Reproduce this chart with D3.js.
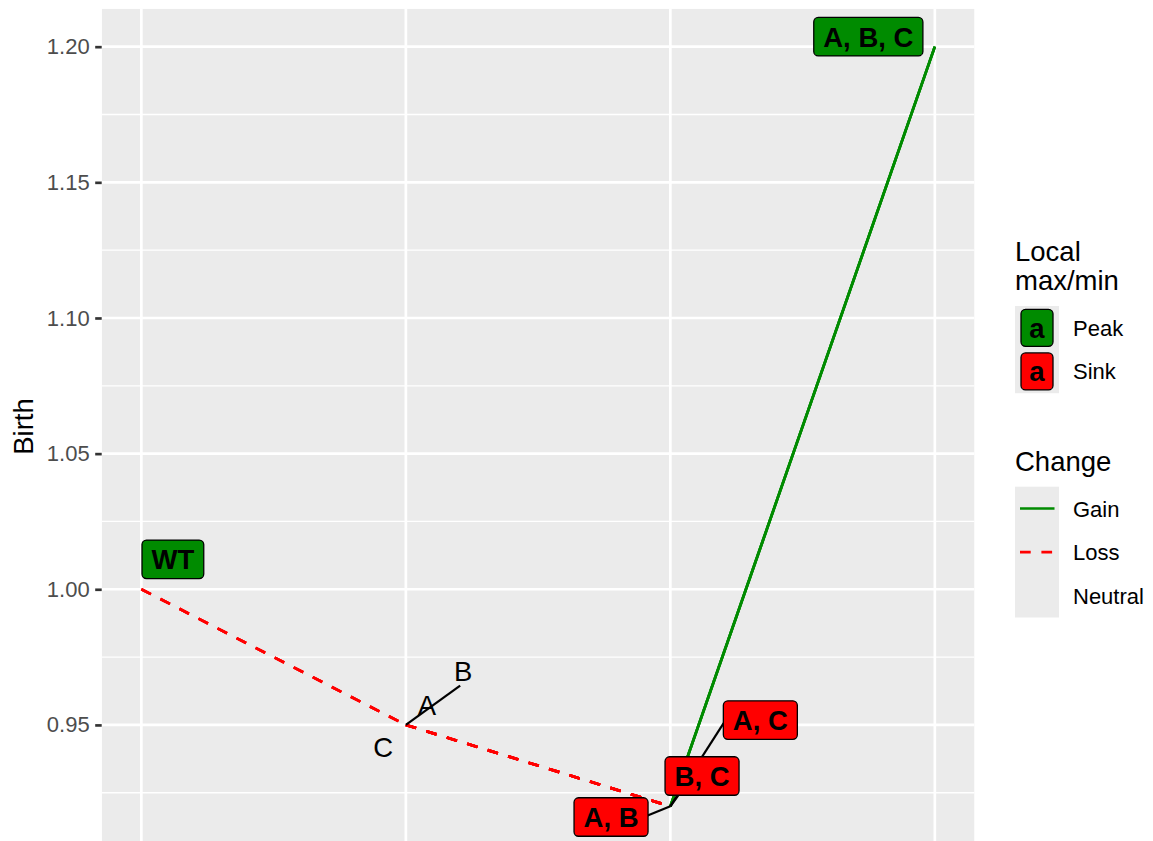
<!DOCTYPE html>
<html>
<head>
<meta charset="utf-8">
<script src="https://cdn.jsdelivr.net/npm/d3@7"></script>
<style>
  html, body { margin: 0; padding: 0; background: #ffffff; }
  svg { display: block; font-family: "Liberation Sans", Arial, Helvetica, sans-serif; }
</style>
</head>
<body>
<svg id="chart" width="1153" height="841"></svg>
<script>
// ---------- data ----------
const genotypes = ["WT", "A", "B", "C", "A, B", "A, C", "B, C", "A, B, C"];
const numMutations = [0, 1, 1, 1, 2, 2, 2, 3];
const birth = [1.00, 0.95, 0.95, 0.95, 0.92, 0.92, 0.92, 1.20];
const localType = ["Peak", null, null, null, "Sink", "Sink", "Sink", "Peak"];
const edgeFrom = ["WT", "WT", "WT", "A", "A", "B", "B", "C", "C", "A, B", "A, C", "B, C"];
const edgeTo   = ["A", "B", "C", "A, B", "A, C", "A, B", "B, C", "A, C", "B, C", "A, B, C", "A, B, C", "A, B, C"];
const edgeChange = ["Loss", "Loss", "Loss", "Loss", "Loss", "Loss", "Loss", "Loss", "Loss", "Gain", "Gain", "Gain"];
const yTicks = [0.95, 1.00, 1.05, 1.10, 1.15, 1.20];
const yMinorTicks = [0.925, 0.975, 1.025, 1.075, 1.125, 1.175];
const xTicks = [0, 1, 2, 3];
const localLegend = ["Peak", "Sink"];
const changeLegend = ["Gain", "Loss", "Neutral"];
const axisTitle = "Birth";

// ---------- layout (label placement, px offsets from the point) ----------
const labelLayout = {
  "WT":      {dx: 31.5, dy: -30, sx: null, sy: null},
  "A, B, C": {dx: -66.5, dy: -10, sx: null, sy: null},
  "A, B":    {dx: -59.3, dy: 10.7, sx: -22.7, sy: 9.2},
  "B, C":    {dx: 31.7, dy: -30.3, sx: 8.3, sy: -11.5},
  "A, C":    {dx: 90, dy: -86.2, sx: 53.3, sy: -83.2},
  "A":       {dx: 21, dy: -10, sx: null, sy: null},
  "B":       {dx: 57.3, dy: -44.3, sx: 54.3, sy: -39.3},
  "C":       {dx: -22.7, dy: 31.7, sx: null, sy: null}
};

const fillColor = {Peak: "#008B00", Sink: "#FF0000"};
const lineColor = {Gain: "#008B00", Loss: "#FF0000", Neutral: "none"};

const nodes = genotypes.map((g, i) => ({g, n: numMutations[i], y: birth[i], type: localType[i]}));
const byName = new Map(nodes.map(d => [d.g, d]));
const edges = edgeFrom.map((f, i) => ({from: byName.get(f), to: byName.get(edgeTo[i]), change: edgeChange[i]}));

const svg = d3.select("#chart");
const panel = {left: 101.7, right: 974.5, top: 8.7, bottom: 844.3};

const x = d3.scaleLinear().domain([-0.15, 3.15]).range([panel.left, panel.right]);
const y = d3.scaleLinear().domain([0.906, 1.214]).range([panel.bottom, panel.top]);

svg.append("rect").attr("width", 1153).attr("height", 841).attr("fill", "#ffffff");

const clipId = "panelclip";
svg.append("clipPath").attr("id", clipId).append("rect")
  .attr("x", panel.left).attr("y", panel.top)
  .attr("width", panel.right - panel.left).attr("height", panel.bottom - panel.top);

const g = svg.append("g").attr("clip-path", `url(#${clipId})`);
g.append("rect")
  .attr("x", panel.left).attr("y", panel.top)
  .attr("width", panel.right - panel.left).attr("height", panel.bottom - panel.top)
  .attr("fill", "#EBEBEB");

// grid
g.selectAll(".ymin").data(yMinorTicks).join("line")
  .attr("x1", panel.left).attr("x2", panel.right)
  .attr("y1", d => y(d)).attr("y2", d => y(d))
  .attr("stroke", "#ffffff").attr("stroke-width", 1.33);
g.selectAll(".ymaj").data(yTicks).join("line")
  .attr("x1", panel.left).attr("x2", panel.right)
  .attr("y1", d => y(d)).attr("y2", d => y(d))
  .attr("stroke", "#ffffff").attr("stroke-width", 2.67);
g.selectAll(".xmaj").data(xTicks).join("line")
  .attr("y1", panel.top).attr("y2", panel.bottom)
  .attr("x1", d => x(d)).attr("x2", d => x(d))
  .attr("stroke", "#ffffff").attr("stroke-width", 2.67);

// edges
g.selectAll(".edge").data(edges).join("line")
  .attr("x1", d => x(d.from.n)).attr("y1", d => y(d.from.y))
  .attr("x2", d => x(d.to.n)).attr("y2", d => y(d.to.y))
  .attr("stroke", d => lineColor[d.change])
  .attr("stroke-width", 2.67)
  .attr("stroke-dasharray", d => d.change === "Loss" ? "10.7,10.7" : null)
  .attr("fill", "none");

// label segments
const segNodes = nodes.filter((d, i) => labelLayout[d.g].sx !== null && (d.type || d.g === "B"));
g.selectAll(".seg").data(segNodes).join("line")
  .attr("x1", d => x(d.n)).attr("y1", d => y(d.y))
  .attr("x2", d => x(d.n) + labelLayout[d.g].sx)
  .attr("y2", d => y(d.y) + labelLayout[d.g].sy)
  .attr("stroke", "#000000").attr("stroke-width", 2.2);

// plain text labels (non-extreme genotypes)
g.selectAll(".plain").data(nodes.filter(d => !d.type)).join("text")
  .attr("x", d => x(d.n) + labelLayout[d.g].dx)
  .attr("y", d => y(d.y) + labelLayout[d.g].dy)
  .attr("text-anchor", "middle")
  .attr("font-size", 27.5)
  .attr("fill", "#000000")
  .text(d => d.g);

// boxed labels
const lab = g.selectAll(".lab").data(nodes.filter(d => d.type)).join("g");
lab.each(function(d) {
  const cx = x(d.n) + labelLayout[d.g].dx;
  const cy = y(d.y) + labelLayout[d.g].dy;
  const gg = d3.select(this);
  const r = gg.append("rect");
  const t = gg.append("text")
    .attr("x", cx).attr("y", cy + 9.9)
    .attr("text-anchor", "middle")
    .attr("font-size", 27.5).attr("font-weight", "bold")
    .attr("fill", "#000000").text(d.g);
  const w = t.node().getComputedTextLength() + 19;
  const h = 38.5;
  r.attr("x", cx - w / 2).attr("y", cy - h / 2)
    .attr("width", w).attr("height", h)
    .attr("rx", 4.5).attr("ry", 4.5)
    .attr("fill", fillColor[d.type])
    .attr("stroke", "#000000").attr("stroke-width", 1.3);
});

// y axis
const yAxis = d3.axisLeft(y).tickValues(yTicks).tickFormat(d3.format(".2f"))
  .tickSize(6.5).tickPadding(5.5);
const ax = svg.append("g").attr("transform", `translate(${panel.left},0)`).call(yAxis);
ax.select(".domain").remove();
ax.selectAll(".tick line").attr("stroke", "#333333").attr("stroke-width", 2.67);
ax.selectAll(".tick text").attr("fill", "#4D4D4D").attr("font-size", 22)
  .attr("font-family", "'Liberation Sans', Arial, sans-serif");

svg.append("text")
  .attr("transform", `translate(33,${(panel.top + panel.bottom) / 2}) rotate(-90)`)
  .attr("text-anchor", "middle").attr("font-size", 27.5).attr("fill", "#000000")
  .text(axisTitle);

// legend: Local max/min
const lg1 = svg.append("g");
lg1.append("text").attr("x", 1015).attr("y", 260.5).attr("font-size", 27.5).text("Local");
lg1.append("text").attr("x", 1015).attr("y", 290).attr("font-size", 27.5).text("max/min");
const keyH = 43.6;
const key1Top = 306;
lg1.append("rect").attr("x", 1015).attr("y", key1Top).attr("width", 44)
  .attr("height", keyH * localLegend.length).attr("fill", "#EBEBEB");
localLegend.forEach((k, i) => {
  const cy = key1Top + keyH * (i + 0.5);
  lg1.append("rect").attr("x", 1021).attr("y", cy - 18.5).attr("width", 32).attr("height", 37)
    .attr("rx", 4.5).attr("fill", fillColor[k]).attr("stroke", "#000000").attr("stroke-width", 1.3);
  lg1.append("text").attr("x", 1037).attr("y", cy + 9.9).attr("text-anchor", "middle")
    .attr("font-size", 27.5).attr("font-weight", "bold").text("a");
  lg1.append("text").attr("x", 1073).attr("y", cy + 8).attr("font-size", 22).text(k);
});

// legend: Change
const lg2 = svg.append("g");
lg2.append("text").attr("x", 1015).attr("y", 471).attr("font-size", 27.5).text("Change");
const key2Top = 486.7;
lg2.append("rect").attr("x", 1015).attr("y", key2Top).attr("width", 44)
  .attr("height", keyH * changeLegend.length).attr("fill", "#EBEBEB");
changeLegend.forEach((k, i) => {
  const cy = key2Top + keyH * (i + 0.5);
  lg2.append("line").attr("x1", 1020).attr("x2", 1054.5).attr("y1", cy).attr("y2", cy)
    .attr("stroke", lineColor[k]).attr("stroke-width", 2.67)
    .attr("stroke-dasharray", k === "Loss" ? "10.7,10.7" : null);
  lg2.append("text").attr("x", 1073).attr("y", cy + 8).attr("font-size", 22).text(k);
});
</script>
</body>
</html>
